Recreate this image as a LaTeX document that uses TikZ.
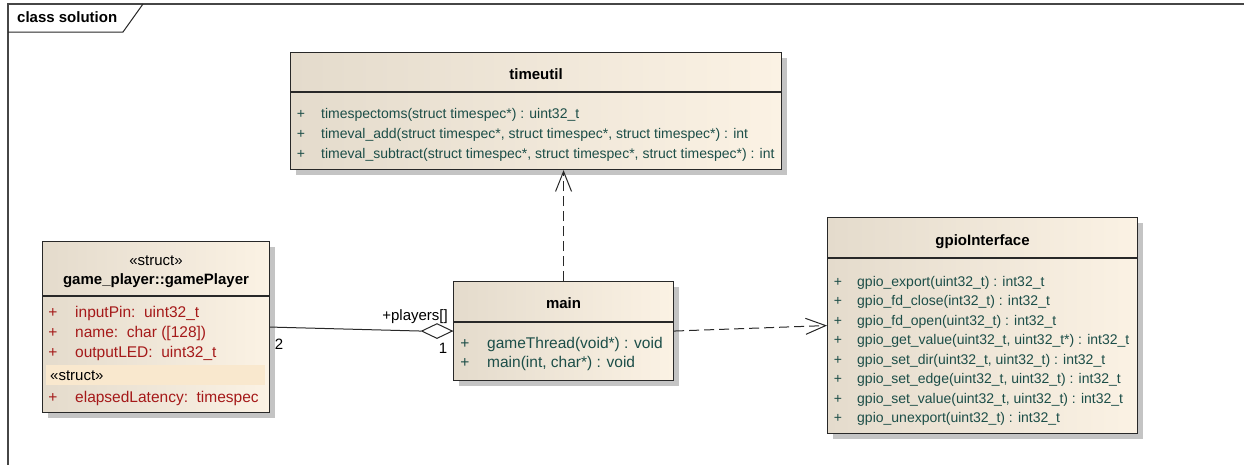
\documentclass[tikz,border=0pt]{standalone}
\usepackage{fontspec}
\setmainfont{Liberation Sans}
\usetikzlibrary{arrows.meta,shapes.geometric,shadows}
\definecolor{meth}{RGB}{28,78,72}
\definecolor{attr}{RGB}{165,25,25}
\definecolor{boxl}{RGB}{228,219,204}
\definecolor{boxr}{RGB}{251,242,228}
\definecolor{bandc}{RGB}{249,232,206}
\definecolor{edgec}{RGB}{40,40,40}
\definecolor{shadowc}{RGB}{196,196,196}
\definecolor{framec}{RGB}{70,70,70}
\newcommand\umlrow[6]{%
  \node[#1, anchor=center] (#2p) at (#3,#5) {+};
  \node[#1] (#2) at (#4,#5) {#6};}
\tikzset{
  umlbox/.style={rectangle, draw=edgec, line width=1.1pt, left color=boxl, right color=boxr,
    inner sep=0pt, anchor=north west,
    drop shadow={shadow xshift=5pt, shadow yshift=-5pt, fill=shadowc, opacity=1}},
  divider/.style={draw=edgec, line width=1.1pt},
  title/.style={font=\bfseries\fontsize{15}{18}\selectfont, inner sep=0pt, text height=11pt, text depth=3pt},
  smeth/.style={font=\fontsize{14}{17}\selectfont, text=meth, anchor=west, inner sep=0pt, text height=10pt, text depth=3pt},
  lmeth/.style={font=\fontsize{15.5}{18}\selectfont, text=meth, anchor=west, inner sep=0pt, text height=11pt, text depth=3pt},
  lattr/.style={font=\fontsize{15.5}{18}\selectfont, text=attr, anchor=west, inner sep=0pt, text height=11pt, text depth=3pt},
  plain/.style={font=\fontsize{15}{18}\selectfont, inner sep=0pt, text height=11pt, text depth=3pt},
  conn/.style={draw=edgec, line width=1pt},
  dep/.style={conn, dash pattern=on 10pt off 5pt, -{Straight Barb[length=20pt, width=16pt, line width=1pt]}},
}
\begin{document}
\begin{tikzpicture}[x=1pt, y=-1pt]
\useasboundingbox (0,0) rectangle (1244,464);
\fill[white] (0,0) rectangle (1244,464);
% frame
\draw[framec, line width=1.5pt] (8,470) -- (8,4) -- (1250,4);
\draw[edgec, line width=1pt] (8,32) -- (123,32) -- (143,4);
\node[title, anchor=west] (frametitle) at (17,18) {class solution};

% timeutil
\node[umlbox, minimum width=491pt, minimum height=117pt] (tu) at (290,52) {};
\draw[divider] (tu.west |- 0,92) -- (tu.east |- 0,92);
\node[title] (tut) at (tu.north |- 0,75) {timeutil};
\umlrow{smeth}{tua}{301}{321}{115}{timespectoms(struct timespec*) : uint32\_t}
\umlrow{smeth}{tub}{301}{321}{135}{timeval\_add(struct timespec*, struct timespec*, struct timespec*) : int}
\umlrow{smeth}{tuc}{301}{321}{155}{timeval\_subtract(struct timespec*, struct timespec*, struct timespec*) : int}

% gpioInterface
\node[umlbox, minimum width=310pt, minimum height=216pt] (gi) at (827,217) {};
\draw[divider] (gi.west |- 0,258) -- (gi.east |- 0,258);
\node[title] (git) at (gi.north |- 0,241) {gpioInterface};
\umlrow{smeth}{gia}{838}{857}{282.5}{gpio\_export(uint32\_t) : int32\_t}
\umlrow{smeth}{gib}{838}{857}{302}{gpio\_fd\_close(int32\_t) : int32\_t}
\umlrow{smeth}{gic}{838}{857}{321.5}{gpio\_fd\_open(uint32\_t) : int32\_t}
\umlrow{smeth}{gid}{838}{857}{341}{gpio\_get\_value(uint32\_t, uint32\_t*) : int32\_t}
\umlrow{smeth}{gie}{838}{857}{360.5}{gpio\_set\_dir(uint32\_t, uint32\_t) : int32\_t}
\umlrow{smeth}{gif}{838}{857}{380}{gpio\_set\_edge(uint32\_t, uint32\_t) : int32\_t}
\umlrow{smeth}{gig}{838}{857}{399.5}{gpio\_set\_value(uint32\_t, uint32\_t) : int32\_t}
\umlrow{smeth}{gih}{838}{857}{419}{gpio\_unexport(uint32\_t) : int32\_t}

% main
\node[umlbox, minimum width=220pt, minimum height=99pt] (mn) at (453,281) {};
\draw[divider] (mn.west |- 0,322) -- (mn.east |- 0,322);
\node[title] (mnt) at (mn.north |- 0,304) {main};
\umlrow{lmeth}{mna}{465}{487}{344}{gameThread(void*) : void}
\umlrow{lmeth}{mnb}{465}{487}{363}{main(int, char*) : void}

% game_player::gamePlayer
\node[umlbox, minimum width=227pt, minimum height=171pt] (gp) at (42,241) {};
\draw[divider] (gp.west |- 0,296) -- (gp.east |- 0,296);
\node[plain] (gps) at (gp.north |- 0,261) {«struct»};
\node[title] (gpt) at (gp.north |- 0,280) {game\_player::gamePlayer};
\umlrow{lattr}{gpa}{53}{75}{313}{inputPin:\ \ uint32\_t}
\umlrow{lattr}{gpb}{53}{75}{333}{name:\ \ char ([128])}
\umlrow{lattr}{gpc}{53}{75}{353}{outputLED:\ \ uint32\_t}
\fill[bandc] (46,365) rectangle (265,385);
\node[plain, anchor=west] (gpst) at (50,376) {«struct»};
\umlrow{lattr}{gpd}{53}{75}{398}{elapsedLatency:\ \ timespec}

% aggregation gamePlayer -- main
\node[diamond, draw=edgec, fill=white, line width=1pt, minimum width=31pt, minimum height=15pt,
  inner sep=0pt, anchor=east] (dia) at (mn.west) {};
\draw[conn] (gp.east) -- (dia.west);
\node[plain, anchor=east] (lplayers) at (448,316) {+players[]};
\node[plain] (lone) at (443,349) {1};
\node[plain] (ltwo) at (279,345) {2};

% dependencies
\draw[dep] (mn.north) -- (mn.north |- tu.south);
\draw[dep] (mn.east) -- (gi.west);
\end{tikzpicture}
\end{document}
